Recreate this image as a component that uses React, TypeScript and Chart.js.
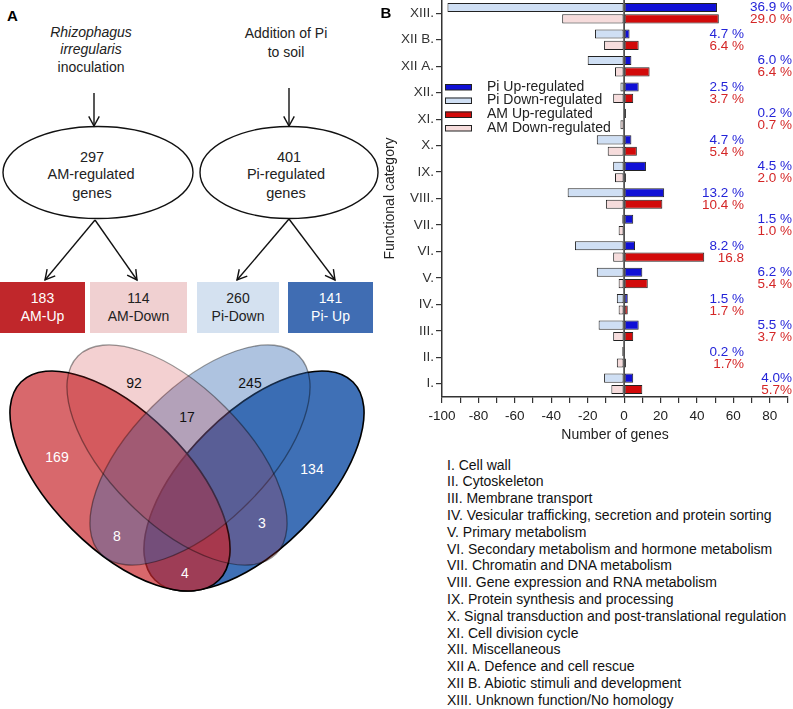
import React, { useEffect, useRef } from "react";
import { Chart, registerables } from "chart.js";
Chart.register(...registerables);

// ---------- Panel B data (bottom → top) ----------
const categories = ["I.", "II.", "III.", "IV.", "V.", "VI.", "VII.", "VIII.", "IX.", "X.", "XI.", "XII.", "XII A.", "XII B.", "XIII."];
const piUp = [5, null, 8, 2, 10, 6, 5, 22, 12, 4, 1, 8, 4, 3, 51];
const piDown = [-11, -1, -14, -4, -15, -27, -1, -31, -6, -15, null, -2, -20, -16, -97];
const amUp = [10, 1, 5, 2, 13, 44, null, 21, 1, 7, null, 5, 14, 8, 52];
const amDown = [-7, -4, -6, -3, -3, -6, -3, -10, -5, -9, -2, -6, -5, -11, -34];
const piPct = ["4.0%", "0.2 %", "5.5 %", "1.5 %", "6.2 %", "8.2 %", "1.5 %", "13.2 %", "4.5 %", "4.7 %", "0.2 %", "2.5 %", "6.0 %", "4.7 %", "36.9 %"];
const amPct = ["5.7%", "1.7%", "3.7 %", "1.7 %", "5.4 %", "16.8", "1.0 %", "10.4 %", "2.0 %", "5.4 %", "0.7 %", "3.7 %", "6.4 %", "6.4 %", "29.0 %"];
const seriesNames = ["Pi Up-regulated", "Pi Down-regulated", "AM Up-regulated", "AM Down-regulated"];
const xTickValues = [-100, -80, -60, -40, -20, 0, 20, 40, 60, 80];

const categoryNames = [
  "I. Cell wall",
  "II. Cytoskeleton",
  "III. Membrane transport",
  "IV. Vesicular trafficking, secretion and protein sorting",
  "V. Primary metabolism",
  "VI. Secondary metabolism and hormone metabolism",
  "VII. Chromatin and DNA metabolism",
  "VIII. Gene expression and RNA metabolism",
  "IX. Protein synthesis and processing",
  "X. Signal transduction and post-translational regulation",
  "XI. Cell division cycle",
  "XII. Miscellaneous",
  "XII A. Defence and cell rescue",
  "XII B. Abiotic stimuli and development",
  "XIII. Unknown function/No homology",
];

// ---------- Panel A data ----------
const amTotal = 297;
const piTotal = 401;
const groupCounts = [183, 114, 260, 141];
const groupNames = ["AM-Up", "AM-Down", "Pi-Down", "Pi- Up"];
const vennCounts = [169, 92, 245, 134, 17, 8, 3, 4];

const FONT = '"Liberation Sans", Arial, sans-serif';
const COLORS = {
  piUp: "#1010d6",
  piDown: "#cfdff4",
  amUp: "#d20a0a",
  amDown: "#f6dcdc",
  pctBlue: "#2424d8",
  pctRed: "#d42626",
};

const overlayPlugin = {
  id: "overlay",
  afterDatasetsDraw(chart: any) {
    const { ctx, chartArea, scales } = chart;
    const x = scales.x;
    const y = scales.y;
    ctx.save();
    // zero line
    const zx = x.getPixelForValue(0);
    ctx.strokeStyle = "#333";
    ctx.lineWidth = 1.5;
    ctx.beginPath();
    ctx.moveTo(zx, chartArea.top);
    ctx.lineTo(zx, chartArea.bottom);
    ctx.stroke();

    // percentage labels
    ctx.font = `13.5px ${FONT}`;
    ctx.textAlign = "right";
    ctx.textBaseline = "middle";
    for (let i = 0; i < categories.length; i++) {
      const cy = y.getPixelForValue(i);
      const rx = i % 2 === 0 ? chartArea.right + 4 : chartArea.right - 44;
      ctx.fillStyle = COLORS.pctBlue;
      ctx.fillText(piPct[i], rx, cy - 5.5);
      ctx.fillStyle = COLORS.pctRed;
      ctx.fillText(amPct[i], rx, cy + 6.5);
    }

    // legend
    const fills = [COLORS.piUp, COLORS.piDown, COLORS.amUp, COLORS.amDown];
    const ly = [87, 100.5, 114.5, 128];
    ctx.textAlign = "left";
    ctx.font = `14px ${FONT}`;
    for (let i = 0; i < 4; i++) {
      const bx = chartArea.left + 3;
      ctx.fillStyle = fills[i];
      ctx.fillRect(bx, ly[i] - 3, 27, 6);
      ctx.strokeStyle = "#222";
      ctx.lineWidth = 1;
      ctx.strokeRect(bx + 0.5, ly[i] - 3 + 0.5, 26, 5.5);
      ctx.fillStyle = "#222";
      ctx.fillText(seriesNames[i], chartArea.left + 45, ly[i]);
    }

    // panel letter
    ctx.font = `bold 15px ${FONT}`;
    ctx.fillStyle = "#000";
    ctx.fillText("B", 0.5, 14);
    ctx.restore();
  },
};

function BarChart() {
  const ref = useRef<HTMLCanvasElement | null>(null);
  useEffect(() => {
    if (!ref.current) return;
    const common = { borderColor: "#222", borderWidth: 1, borderSkipped: false, categoryPercentage: 0.86, barPercentage: 0.8 };
    const chart = new Chart(ref.current, {
      type: "bar",
      data: {
        labels: categories,
        datasets: [
          { label: seriesNames[0], data: piUp, backgroundColor: COLORS.piUp, stack: "pi", ...common },
          { label: seriesNames[1], data: piDown, backgroundColor: COLORS.piDown, stack: "pi", ...common },
          { label: seriesNames[2], data: amUp, backgroundColor: COLORS.amUp, stack: "am", ...common },
          { label: seriesNames[3], data: amDown, backgroundColor: COLORS.amDown, stack: "am", ...common },
        ] as any,
      },
      options: {
        indexAxis: "y",
        animation: false,
        responsive: false,
        maintainAspectRatio: false,
        layout: { padding: { left: 0, right: 5, top: 0, bottom: 0 } },
        plugins: { legend: { display: false }, tooltip: { enabled: false } },
        scales: {
          x: {
            stacked: true,
            min: -100,
            max: 90,
            afterFit: (s: any) => { s.height = 53; s.paddingRight = 0; },
            afterBuildTicks: (s: any) => {
              const t = [];
              for (let v = -100; v <= 90; v += 10) t.push({ value: v });
              s.ticks = t;
            },
            ticks: {
              autoSkip: false,
              maxRotation: 0,
              padding: 5,
              color: "#222",
              font: { family: FONT, size: 13.5 },
              callback: (v: any) => (xTickValues.includes(Number(v)) ? String(v) : ""),
            },
            grid: { display: true, drawOnChartArea: false, drawTicks: true, tickLength: 6, color: "#333", lineWidth: 1.2 },
            border: { display: true, color: "#333", width: 1.5 },
            title: { display: true, text: "Number of genes", color: "#222", font: { family: FONT, size: 14 }, padding: { top: 0, bottom: 6 } },
          },
          y: {
            reverse: true,
            afterFit: (s: any) => { s.width = 62; s.paddingTop = 0; s.paddingBottom = 0; },
            ticks: { color: "#333", padding: 2, font: { family: FONT, size: 13.5 } },
            grid: { display: true, offset: false, drawOnChartArea: false, drawTicks: true, tickLength: 6, color: "#333", lineWidth: 1.2 },
            border: { display: true, color: "#333", width: 1.5 },
            title: { display: true, text: "Functional category", color: "#222", font: { family: FONT, size: 14 }, padding: { top: 2, bottom: 0 } },
          },
        },
      } as any,
      plugins: [overlayPlugin],
    });
    return () => chart.destroy();
  }, []);
  return <canvas ref={ref} width={413} height={450} style={{ display: "block", width: 413, height: 450 }} />;
}

function arrowHead(x1: number, y1: number, x2: number, y2: number, len = 11, ang = 0.5) {
  const a = Math.atan2(y2 - y1, x2 - x1);
  const p1 = [x2 - len * Math.cos(a - ang), y2 - len * Math.sin(a - ang)];
  const p2 = [x2 - len * Math.cos(a + ang), y2 - len * Math.sin(a + ang)];
  return `${p1[0]},${p1[1]} ${x2},${y2} ${p2[0]},${p2[1]}`;
}

function Arrow({ x1, y1, x2, y2 }: { x1: number; y1: number; x2: number; y2: number }) {
  return (
    <g stroke="#111" strokeWidth={1.4} fill="none">
      <line x1={x1} y1={y1} x2={x2} y2={y2} />
      <polyline points={arrowHead(x1, y1, x2, y2)} />
    </g>
  );
}

function PanelA() {
  const boxes = [
    { x: 0, w: 85, fill: "#c0272b", text: "#fff" },
    { x: 90, w: 97, fill: "#f0d0d1", text: "#222" },
    { x: 197, w: 82, fill: "#d4e1f0", text: "#222" },
    { x: 288, w: 85, fill: "#406db3", text: "#fff" },
  ];
  const vennPos = [
    [57, 457, "#fff"],
    [134, 383, "#111"],
    [250, 383, "#111"],
    [312, 469, "#fff"],
    [187, 417, "#111"],
    [117, 536, "#fff"],
    [262, 523, "#fff"],
    [185, 573, "#fff"],
  ];
  const a = 140, b = 68;
  return (
    <svg width={380} height={709} style={{ position: "absolute", left: 0, top: 0 }} fontFamily={FONT}>
      <text x={7} y={21} fontSize={15} fontWeight="bold">A</text>
      <g fontSize={14} textAnchor="middle" fill="#222">
        <text x={91} y={37} fontStyle="italic">Rhizophagus</text>
        <text x={91} y={54} fontStyle="italic">irregularis</text>
        <text x={91} y={72}>inoculation</text>
        <text x={286} y={38}>Addition of Pi</text>
        <text x={286} y={57}>to soil</text>
      </g>
      <Arrow x1={94} y1={93} x2={94} y2={126} />
      <Arrow x1={289} y1={88} x2={289} y2={126} />
      <ellipse cx={98} cy={172.5} rx={95} ry={46} fill="none" stroke="#111" strokeWidth={1.4} />
      <ellipse cx={289} cy={172.5} rx={89} ry={46} fill="none" stroke="#111" strokeWidth={1.4} />
      <g fontSize={14.5} textAnchor="middle" fill="#222">
        <text x={92} y={162}>{amTotal}</text>
        <text x={91} y={179}>AM-regulated</text>
        <text x={92} y={198}>genes</text>
        <text x={289} y={162}>{piTotal}</text>
        <text x={286} y={179}>Pi-regulated</text>
        <text x={286} y={198}>genes</text>
      </g>
      <Arrow x1={95} y1={220} x2={45} y2={280} />
      <Arrow x1={95} y1={220} x2={137} y2={280} />
      <Arrow x1={289} y1={219} x2={237} y2={280} />
      <Arrow x1={289} y1={219} x2={335} y2={280} />
      {boxes.map((bx, i) => (
        <g key={i}>
          <rect x={bx.x} y={282} width={bx.w} height={51} fill={bx.fill} />
          <text x={bx.x + bx.w / 2} y={303} fontSize={14} textAnchor="middle" fill={bx.text}>{groupCounts[i]}</text>
          <text x={bx.x + bx.w / 2} y={321} fontSize={14} textAnchor="middle" fill={bx.text}>{groupNames[i]}</text>
        </g>
      ))}
      {/* Venn */}
      <ellipse cx={254} cy={481} rx={a} ry={b} transform="rotate(-45 254 481)" fill="#3568b2" fillOpacity={0.95} stroke="#000" strokeWidth={1.6} />
      <ellipse cx={120} cy={481} rx={a} ry={b} transform="rotate(45 120 481)" fill="#c8282d" fillOpacity={0.7} stroke="#000" strokeWidth={1.6} />
      <ellipse cx={200} cy={455} rx={a} ry={b} transform="rotate(-45 200 455)" fill="#3568b2" fillOpacity={0.4} stroke="rgba(0,0,0,0.4)" strokeWidth={1.3} />
      <ellipse cx={177} cy={455} rx={a} ry={b} transform="rotate(45 177 455)" fill="#c8282d" fillOpacity={0.22} stroke="rgba(0,0,0,0.4)" strokeWidth={1.3} />
      <g fontSize={14} textAnchor="middle" dominantBaseline="central">
        {vennCounts.map((c, i) => (
          <text key={i} x={vennPos[i][0] as number} y={vennPos[i][1] as number} fill={vennPos[i][2] as string}>{c}</text>
        ))}
      </g>
    </svg>
  );
}

export default function App() {
  return (
    <div style={{ position: "fixed", left: 0, top: 0, width: 793, height: 709, background: "#fff", overflow: "hidden", fontFamily: FONT }}>
      <PanelA />
      <div style={{ position: "absolute", left: 380, top: 0, width: 413, height: 450 }}>
        <BarChart />
      </div>
      <div style={{ position: "absolute", left: 447, top: 456.6, fontSize: 14, lineHeight: "16.8px", color: "#111", whiteSpace: "nowrap" }}>
        {categoryNames.map((n, i) => (
          <div key={i}>{n}</div>
        ))}
      </div>
    </div>
  );
}
